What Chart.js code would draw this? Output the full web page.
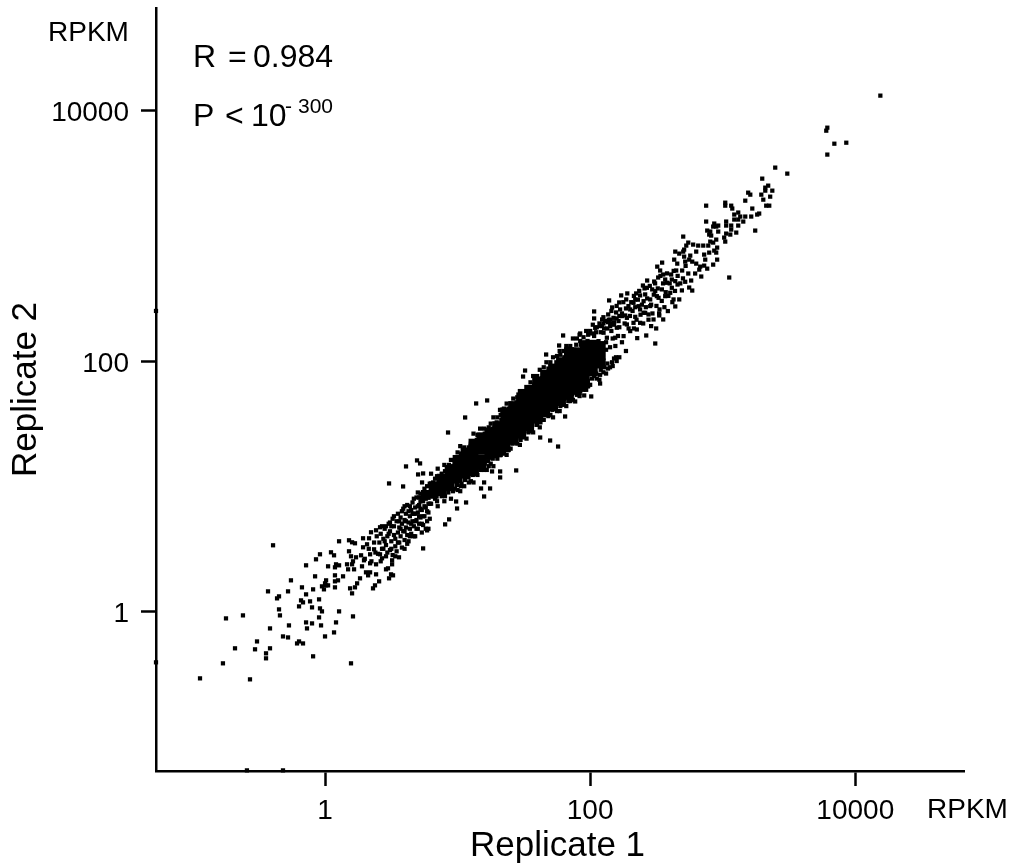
<!DOCTYPE html>
<html>
<head>
<meta charset="utf-8">
<style>
	html, body { margin: 0; padding: 0; background: #fff; }
	canvas { display: block; }
</style>
<script src="https://cdn.jsdelivr.net/npm/chart.js@4/dist/chart.umd.min.js"></script>
</head>
<body>
<canvas id="chart" width="1011" height="864"></canvas>
<script>
// all values are log10(RPKM), replicate 1 then replicate 2
var tickValues = [1, 100, 10000];

var tailPoints = [
	[-.943,-.535],[-.566,-.543],[-.77,-.415],[.196,-.415],[-.09,-.359],[-.445,-.375],[-.445,-.335],[-.415,-.295],[-.528,-.303],[-.679,-.295],
	[-.513,-.24],[-.211,-.256],[-.196,-.24],[-.166,-.256],[-.317,-.2],[-.279,-.208],[-.415,-.136],[-.272,-.112],[-.136,-.136],[-.143,-.088],
	[-.098,-.096],[-.03,-.112],[0,-.2],[.068,-.168],[.083,-.088],[-.045,-.048],[.211,-.04],[.106,0],[-.023,0],[-.038,.024],
	[-.098,.032],[-.196,.04],[-.347,.016],[-.34,-.032],[-.747,-.056],[-.619,-.032],[-.166,.072],[-.181,.088],[-.113,.08],[-.045,.096],
	[-.362,.104],[-.347,.12],[-.43,.16],[-.279,.16],[-.143,.136],[-.174,.192],[-.09,.176],[-.257,.248],[-.023,.2],[-.008,.176],
	[.008,.208],[0,.224],[.008,.248],[.023,.208],[.075,.192],[.075,.24],[.098,.248],[.075,.288],[.136,.28],[-.075,.28],
	[.189,.184],[.204,.144],[.226,.192],[.242,.224],[.264,.264],[.362,.184],[.377,.208],[.408,.24],[.325,.288],[.309,.312],
	[.34,.312],[.385,.296],[.483,.264],[.498,.296],[.513,.288],[.46,.336],[.475,.344],[.506,.376],[.506,.408],[.385,.376],
	[.34,.384],[.279,.36],[.294,.408],[.219,.336],[.174,.336],[.166,.376],[.204,.376],[.211,.4],[.075,.352],[.023,.36],
	[.083,.376],[.106,.368],[-.143,.368],[-.068,.416],[-.038,.456],[.045,.472],[.068,.448],[.181,.48],[.196,.44],[.234,.432],
	[.272,.448],[.34,.456],[.106,.56],[.181,.568],[.204,.552],[.226,.544],[-.392,.528],[.287,.584],[.287,.512],[.317,.536],
	[.332,.584],[.347,.632],[.385,.648],[.37,.496],[.415,.456],[.43,.424],[.558,.432],[.415,.672],[.46,.68],[.49,.71]
];

// marks lying on the axis lines
var edgePoints = [[-.589,-1.27],[-.317,-1.27],[-1.275,-.407],[-1.275,2.40]];

var shoulderPoints = [
	[.40,.46],[.41,.55],[.42,.62],[.43,.50],[.44,.58],[.45,.66],[.46,.44],[.46,.53],[.47,.60],[.48,.70],
	[.49,.49],[.49,.64],[.50,.56],[.51,.74],[.51,.45],[.52,.61],[.52,.68],[.53,.52],[.53,.58],[.54,.72],
	[.54,.48],[.55,.63],[.55,.78],[.56,.55],[.56,.67],[.57,.60],[.57,.75],[.58,.51],[.58,.70],[.59,.64],
	[.59,.82],[.60,.57],[.60,.73],[.61,.67],[.61,.78],[.62,.61],[.62,.85],[.63,.71],[.63,.56],[.64,.76],
	[.64,.66],[.65,.81],[.65,.62],[.66,.72],[.66,.87],[.67,.68],[.67,.78],[.68,.60],[.68,.83],[.69,.73],
	[.69,.91],[.70,.66],[.70,.79],[.71,.85],[.71,.70],[.72,.94],[.72,.75],[.73,.63],[.73,.81],[.74,.69],
	[.74,.88],[.75,.98],[.75,.76],[.76,.83],[.77,.72],[.77,.92],[.78,.66],[.78,.79],[.79,1.02],[.79,.86],
	[.30,.42],[.33,.50],[.35,.40],[.37,.55],[.38,.47],[.39,.60],[.42,.40],[.43,.68],[.44,.50],[.45,.56],
	[.47,.47],[.48,.62],[.50,.68],[.50,.50],[.52,.76],[.53,.44],[.55,.55],[.56,.72],[.57,.66],[.58,.80],
	[.60,.64],[.60,.50],[.61,.72],[.62,.54],[.63,.80],[.64,.60],[.65,.70],[.66,.78],[.67,.60],[.67,.90],
	[.68,.72],[.69,.66],[.70,.84],[.70,.95],[.71,.76],[.72,.88],[.73,.70],[.74,.95],[.75,.84],[.76,.66],
	[.76,.90],[.77,1.00],[.77,.80],[.78,.86],[.79,.74],[.79,.94],[.72,.82],[.74,.76],[.68,.78],[.64,.84],
	[.60,.84],[.71,.91],[.73,.90],[.75,.92]
];

var upperEdgePoints = [
	[.80,1.10],[.83,1.06],[.85,1.14],[.88,1.10],[.90,1.17],[.93,1.13],[.95,1.21],[.98,1.19],[1.00,1.27],[1.03,1.23],
	[1.05,1.31],[1.08,1.27],[1.10,1.34],[1.13,1.32],[1.15,1.41],[1.18,1.37],[1.20,1.46],[1.23,1.42],[1.25,1.50],[1.28,1.47],
	[1.30,1.55],[1.33,1.53],[1.35,1.62],[1.38,1.58],[1.40,1.66],[1.43,1.63],[1.45,1.71],[1.48,1.68],[1.50,1.76],[1.53,1.74],
	[1.55,1.83],[1.58,1.80],[1.60,1.88],[1.63,1.86],[1.65,1.95],[1.68,1.90],[1.70,1.99],[1.73,1.95],[1.75,2.04],[1.78,2.01],
	[1.80,2.08],[1.83,2.05],[1.85,2.12],[1.88,2.09],[1.90,2.18],[1.93,2.13],[1.95,2.19],[1.98,2.16],[2.00,2.24],[2.03,2.20],
	[2.05,2.27],[2.08,2.23],[2.10,2.30],[2.13,2.26],[2.15,2.33],[2.18,2.29],
	[.815,1.03],[.845,1.08],[.875,1.07],[.905,1.12],[.935,1.17],[.965,1.16],[.995,1.21],[1.025,1.26],[1.055,1.27],[1.085,1.31],
	[1.115,1.36],[1.145,1.37],[1.175,1.41],[1.205,1.42],[1.235,1.47],[1.265,1.46],[1.295,1.51],[1.325,1.57],[1.355,1.56],[1.385,1.62],
	[1.415,1.60],[1.445,1.67],[1.475,1.72],[1.505,1.71],[1.535,1.78],[1.565,1.77],[1.595,1.84],[1.625,1.82],[1.655,1.90],[1.685,1.94],
	[1.715,1.93],[1.745,1.99],[1.775,2.05],[1.805,2.03],[1.835,2.10],[1.865,2.06],[1.895,2.13],[1.925,2.16],[1.955,2.15],[1.985,2.21],
	[2.015,2.22],[2.045,2.23],[2.075,2.28],[2.105,2.26],[2.135,2.31],[2.165,2.30],
	[1.02,1.32],[1.12,1.42],[1.17,1.46],[1.27,1.55],[1.32,1.61],[1.37,1.66],[1.42,1.70],[1.47,1.76],[1.57,1.88],[1.62,1.93],
	[1.67,1.99],[1.72,2.03],[1.77,2.08],[1.82,2.12],[1.87,2.18],[1.92,2.21],[1.97,2.24],[2.02,2.29]
];

var lowerEdgePoints = [
	[.80,.86],[.83,.90],[.85,.84],[.88,.92],[.90,.88],[.93,.95],[.95,.90],[.98,.98],[1.00,.97],[1.03,1.02],
	[1.05,1.00],[1.08,1.07],[1.10,1.04],[1.13,1.11],[1.15,1.09],[1.18,1.16],[1.20,1.13],[1.23,1.20],[1.25,1.18],[1.28,1.24],
	[1.30,1.22],[1.33,1.28],[1.35,1.26],[1.38,1.33],[1.40,1.30],[1.43,1.37],[1.45,1.34],[1.48,1.42],[1.50,1.39],[1.53,1.47],
	[1.55,1.44],[1.58,1.52],[1.60,1.49],[1.63,1.55],[1.65,1.53],[1.68,1.60],[1.70,1.57],[1.73,1.63],[1.75,1.60],[1.78,1.67],
	[1.80,1.65],[1.83,1.71],[1.85,1.68],[1.88,1.75],[1.90,1.73],[1.93,1.80],[1.95,1.77],[1.98,1.84],[2.00,1.81],[2.03,1.88],
	[2.05,1.86],[2.08,1.93],[2.10,1.91],[2.13,1.98],[2.15,1.95],[2.18,2.02],[2.20,2.00],
	[.815,.92],[.845,.88],[.875,.95],[.905,.92],[.935,.98],[.965,.96],[.995,1.01],[1.025,1.00],[1.055,1.05],[1.085,1.03],
	[1.115,1.09],[1.145,1.12],[1.175,1.13],[1.205,1.18],[1.235,1.16],[1.265,1.22],[1.295,1.26],[1.325,1.25],[1.355,1.31],[1.385,1.29],
	[1.415,1.34],[1.445,1.38],[1.475,1.37],[1.505,1.44],[1.535,1.43],[1.565,1.49],[1.595,1.54],[1.625,1.51],[1.655,1.57],[1.685,1.56],
	[1.715,1.61],[1.745,1.66],[1.775,1.64],[1.805,1.70],[1.835,1.68],[1.865,1.74],[1.895,1.78],[1.925,1.76],[1.955,1.82],[1.985,1.80],
	[2.015,1.86],[2.045,1.90],[2.075,1.89],[2.105,1.95],[2.135,1.94],[2.165,1.99],[2.195,2.03],
	[1.02,.96],[1.12,1.03],[1.22,1.13],[1.27,1.16],[1.37,1.25],[1.47,1.33],[1.52,1.38],[1.57,1.43],[1.62,1.47],[1.72,1.55],
	[1.77,1.60],[1.82,1.64],[1.87,1.69],[1.92,1.72],[1.97,1.77],[2.07,1.85],[2.12,1.90],[2.17,1.96],[2.22,2.03],[2.27,2.08]
];

var bandOutliers = [
	[1.796,2.204],[1.925,2.22],[1.766,2.124],[1.668,2.052],[1.509,1.924],[1.494,1.876],[1.14,1.661],[1.223,1.685],[1.057,1.549],[.928,1.429],
	[.611,1.158],[.483,1.022],[.694,1.206],[.717,1.182],[.702,1.094],[.74,1.102],[.589,.998],[.732,1.03],[2.075,1.82],[2.008,1.717],
	[1.955,1.725],[1.887,1.677],[1.811,1.557],[1.623,1.389],[1.698,1.365],[1.758,1.317],[1.442,1.126],[1.321,1.118],[1.321,1.07],[1.245,.982],
	[1.177,.982],[1.2,1.03],[1.2,.918],[1.064,.87],[.989,.878],[.996,.822],[.936,.735],[.906,.695],[.77,.647],[.74,.503],[1.26,1.118]
];

var upperArmPoints = [
	[2.03,2.396],[2.03,2.34],[2.09,2.332],[2.143,2.484],[2.234,2.524],[2.219,2.468],[2.272,2.492],[2.166,2.428],[2.196,2.388],[2.136,2.372],
	[2.226,2.412],[2.264,2.364],[2.302,2.412],[2.347,2.54],[2.34,2.492],[2.377,2.524],[2.398,2.603],[2.43,2.643],[2.468,2.572],[2.415,2.532],
	[2.453,2.492],[2.503,2.518],[2.541,2.572],[2.483,2.635],[2.513,2.667],[2.579,2.625],[2.604,2.545],[2.629,2.492],[2.642,2.436],[2.672,2.492],
	[2.586,2.399],[2.551,2.332],[2.521,2.364],[2.523,2.412],[2.453,2.439],[2.415,2.385],[2.377,2.412],[2.34,2.353],[2.46,2.279],[2.498,2.26],
	[2.423,2.204],[2.355,2.183],[2.491,2.14],[2.692,2.564],[2.659,2.611],[2.717,2.633],[2.616,2.651],[2.566,2.518],[2.616,2.585],[2.642,2.638],
	[2.327,2.305],[2.277,2.292],[2.214,2.319],[2.151,2.279],[2.101,2.226],[2.302,2.239],[2.252,2.199],[2.403,2.385],[2.44,2.372],[2.478,2.332],
	[2.377,2.305],[2.352,2.252],[2.277,2.345],[2.201,2.266],[2.126,2.186],[2.063,2.159],[2.189,2.186],[2.516,2.505],[2.428,2.585],[2.566,2.651],
	[2.491,2.558],[2.327,2.465],[2.365,2.438],[2.403,2.478],[2.289,2.439],[2.239,2.359],[2.176,2.345],[2.088,2.279],[2.038,2.265],[2.113,2.319],
	[2.506,2.754],[2.543,2.786],[2.528,2.723],[2.551,2.691],[2.611,2.691],[2.649,2.723],[2.694,2.723],[2.74,2.699],[2.634,2.81],[2.657,2.778],
	[2.717,2.794],[2.747,2.81],[2.77,2.794],[2.8,2.778],[2.83,2.754],[2.86,2.762],[2.928,2.77],[2.883,2.738],[2.823,2.73],[2.792,2.699],
	[2.838,2.675],[3.049,2.667],[2.762,2.643],[2.747,2.587],[2.77,2.563],[2.709,2.834],[2.755,2.842],[2.868,2.81],[2.958,2.81],[2.642,2.874],
	[2.672,2.858],[2.702,2.874],[2.8,2.874],[2.86,2.85],[2.898,2.866],[2.936,2.882],[2.951,2.866],[2.725,2.922],[2.709,2.89],[2.74,2.946],
	[2.777,2.93],[2.815,2.922],[2.853,2.922],[2.891,2.922],[2.958,2.906],[2.702,2.994],[2.906,2.954],[2.928,2.946],[3.019,2.954],[2.951,2.97],
	[3.011,2.986],[2.913,3.002],[2.898,3.01],[3.026,3.018],[3.057,3.01],[3.102,3.026],[3.245,3.042],[3.064,3.05],[2.966,3.034],[2.906,3.034],
	[2.883,3.042],[2.928,3.074],[2.951,3.074],[2.966,3.082],[3.117,3.082],[3.064,3.082],[3.026,3.082],[2.936,3.098],[3.026,3.114],[2.875,3.114],
	[3.155,3.114],[3.117,3.13],[3.087,3.13],[3.26,3.17],[3.275,3.178],[3.215,3.154],[3.17,3.154],[3.132,3.154],[3.087,3.17],[3.117,3.186],
	[3.351,3.241],[3.328,3.241],[3.223,3.218],[3.072,3.218],[3.064,3.241],[2.875,3.241],[3.019,3.241],[3.019,3.265],[3.17,3.281],[3.208,3.329],
	[3.192,3.345],[3.306,3.289],[3.358,3.313],[3.291,3.329],[3.321,3.361],[3.321,3.385],[3.374,3.361],[3.343,3.401],[3.298,3.457],[3.487,3.497],
	[3.396,3.545],[3.789,3.649],[3.932,3.744],[3.842,3.736],[3.781,3.84],[3.789,3.864],[4.189,4.12],
	[2.16,2.40],[2.18,2.31],[2.20,2.44],[2.22,2.27],[2.24,2.38],[2.25,2.47],[2.26,2.30],[2.27,2.42],[2.28,2.54],[2.29,2.26],
	[2.30,2.36],[2.31,2.47],[2.32,2.40],[2.33,2.52],[2.33,2.26],[2.34,2.43],[2.35,2.33],[2.36,2.49],[2.37,2.56],[2.38,2.37],
	[2.39,2.45],[2.40,2.30],[2.41,2.58],[2.42,2.43],[2.43,2.50],[2.44,2.33],[2.45,2.60],[2.46,2.45],[2.47,2.38],[2.48,2.53],
	[2.49,2.62],[2.50,2.44],[2.51,2.58],[2.52,2.38],[2.53,2.68],[2.54,2.48],[2.55,2.62],[2.56,2.43],[2.57,2.55],[2.58,2.70],
	[2.59,2.52],[2.60,2.62],[2.62,2.47],[2.63,2.72],[2.64,2.56],[2.66,2.68],[2.68,2.62],[2.70,2.66],[2.72,2.76],[2.20,2.34],
	[2.14,2.33],[2.22,2.36],[2.10,2.35],[2.07,2.30],[2.12,2.15],[2.16,2.24],[2.19,2.12],[2.17,2.18],[2.21,2.20],[2.24,2.15],[2.12,2.09],[2.15,2.11]
];

// saturated middle of the cloud, every mark overlaps here so drawn with a wider square
var corePoints = [
	[.76,.93],[.82,.94],[.82,1.00],[.88,.96],[.88,1.00],[.88,1.06],
	[.94,1.00],[.94,1.07],[.94,1.13],[1.00,1.06],[1.00,1.12],[1.00,1.18],[1.06,1.10],[1.06,1.17],[1.06,1.24],[1.12,1.16],
	[1.12,1.23],[1.12,1.30],[1.18,1.21],[1.18,1.29],[1.18,1.35],[1.24,1.25],[1.24,1.32],[1.24,1.39],[1.24,1.43],[1.30,1.30],
	[1.30,1.37],[1.30,1.44],[1.30,1.48],[1.36,1.35],[1.36,1.42],[1.36,1.49],[1.36,1.55],[1.42,1.40],[1.42,1.47],[1.42,1.54],
	[1.42,1.60],[1.48,1.46],[1.48,1.53],[1.48,1.60],[1.48,1.67],[1.54,1.52],[1.54,1.59],[1.54,1.66],[1.54,1.73],[1.60,1.58],
	[1.60,1.65],[1.60,1.72],[1.60,1.79],[1.66,1.63],[1.66,1.70],[1.66,1.77],[1.66,1.84],[1.72,1.68],[1.72,1.75],[1.72,1.82],
	[1.72,1.89],[1.78,1.72],[1.78,1.79],[1.78,1.86],[1.78,1.93],[1.84,1.76],[1.84,1.83],[1.84,1.90],[1.84,1.97],[1.84,2.03],
	[1.90,1.80],[1.90,1.87],[1.90,1.94],[1.90,2.01],[1.90,2.07],[1.96,1.85],[1.96,1.92],[1.96,1.99],[1.96,2.06],[1.96,2.12],
	[2.02,1.92],[2.02,1.99],[2.02,2.06],[2.02,2.13],[2.08,1.98],[2.08,2.05],[2.08,2.12],
	[1.00,1.21],[1.06,1.27],[1.12,1.34],[1.18,1.39],[1.36,1.59],[1.42,1.64],[1.48,1.71],[1.54,1.77],[1.60,1.83],[1.66,1.89],
	[1.72,1.94],[1.78,1.99],[1.84,2.07],[1.12,1.12],[1.18,1.17],[1.30,1.27],[1.36,1.31],[1.42,1.37],[1.48,1.42],[1.54,1.48],
	[1.60,1.54],[1.66,1.59],[1.72,1.64],[1.78,1.68],[1.84,1.73],[1.90,1.77],[1.96,1.82]
];

function toRpkm(list) {
	return list.map(function(item) {
		return { x: Math.pow(10, item[0]), y: Math.pow(10, item[1]) };
	});
}

var allSmall = tailPoints.concat(edgePoints, shoulderPoints, upperEdgePoints, lowerEdgePoints, bandOutliers, upperArmPoints);

var labelPlugin = {
	id: 'labels',
	afterDraw: function(chart) {
		var ctx = chart.ctx;
		ctx.save();
		ctx.fillStyle = '#000';
		ctx.textBaseline = 'alphabetic';
		ctx.textAlign = 'left';
		ctx.font = '28px "Liberation Sans"';
		ctx.fillText('RPKM', 48, 41);
		ctx.fillText('RPKM', 927, 818);
		ctx.font = '32px "Liberation Sans"';
		ctx.fillText('R', 193, 67);
		ctx.fillText('=', 228, 67);
		ctx.fillText('0.984', 253, 67);
		ctx.fillText('P', 193, 126);
		ctx.fillText('<', 225, 126);
		ctx.fillText('10', 251, 126);
		ctx.font = '21px "Liberation Sans"';
		ctx.fillText('-', 285, 113);
		ctx.fillText('300', 298, 113);
		ctx.font = '35px "Liberation Sans"';
		ctx.textAlign = 'center';
		ctx.fillText('Replicate 1', 557.5, 856);
		ctx.restore();
	}
};

function axisOptions(tickPadding, labelOffset) {
	return {
		type: 'logarithmic',
		min: Math.pow(10, -1.275),
		max: Math.pow(10, 4.82),
		afterBuildTicks: function(scale) {
			scale.ticks = tickValues.map(function(v) { return { value: v }; });
		},
		ticks: {
			color: '#000',
			font: { family: '"Liberation Sans"', size: 28 },
			padding: tickPadding,
			labelOffset: labelOffset,
			maxRotation: 0,
			autoSkip: false,
			callback: function(value) { return String(value); }
		},
		grid: { drawOnChartArea: false, drawTicks: true, tickLength: 15, tickWidth: 2.5, tickColor: '#000' },
		border: { color: '#000', width: 2.5 }
	};
}

var xAxis = axisOptions(8, 0);
xAxis.afterFit = function(scale) {
	scale.height = 93;
	scale.paddingLeft = 0;
	scale.paddingRight = 0;
};
var yAxis = axisOptions(12, 3);
yAxis.title = {
	display: true,
	text: 'Replicate 2',
	color: '#000',
	font: { family: '"Liberation Sans"', size: 35 },
	padding: { top: 5, bottom: 0 }
};
yAxis.afterFit = function(scale) {
	scale.width = 156;
	scale.paddingTop = 0;
	scale.paddingBottom = 0;
};

new Chart(document.getElementById('chart'), {
	type: 'scatter',
	data: {
		datasets: [
			{ data: toRpkm(corePoints), pointStyle: 'rect', pointRadius: 7, pointBorderWidth: 0, backgroundColor: '#000', clip: false },
			{ data: toRpkm(allSmall), pointStyle: 'rect', pointRadius: 3, pointBorderWidth: 0, backgroundColor: '#000', clip: false }
		]
	},
	options: {
		responsive: false,
		animation: false,
		layout: { padding: { left: 0, top: 8, right: 47, bottom: 0 } },
		plugins: { legend: { display: false }, tooltip: { enabled: false } },
		scales: { x: xAxis, y: yAxis }
	},
	plugins: [labelPlugin]
});
</script>
</body>
</html>
